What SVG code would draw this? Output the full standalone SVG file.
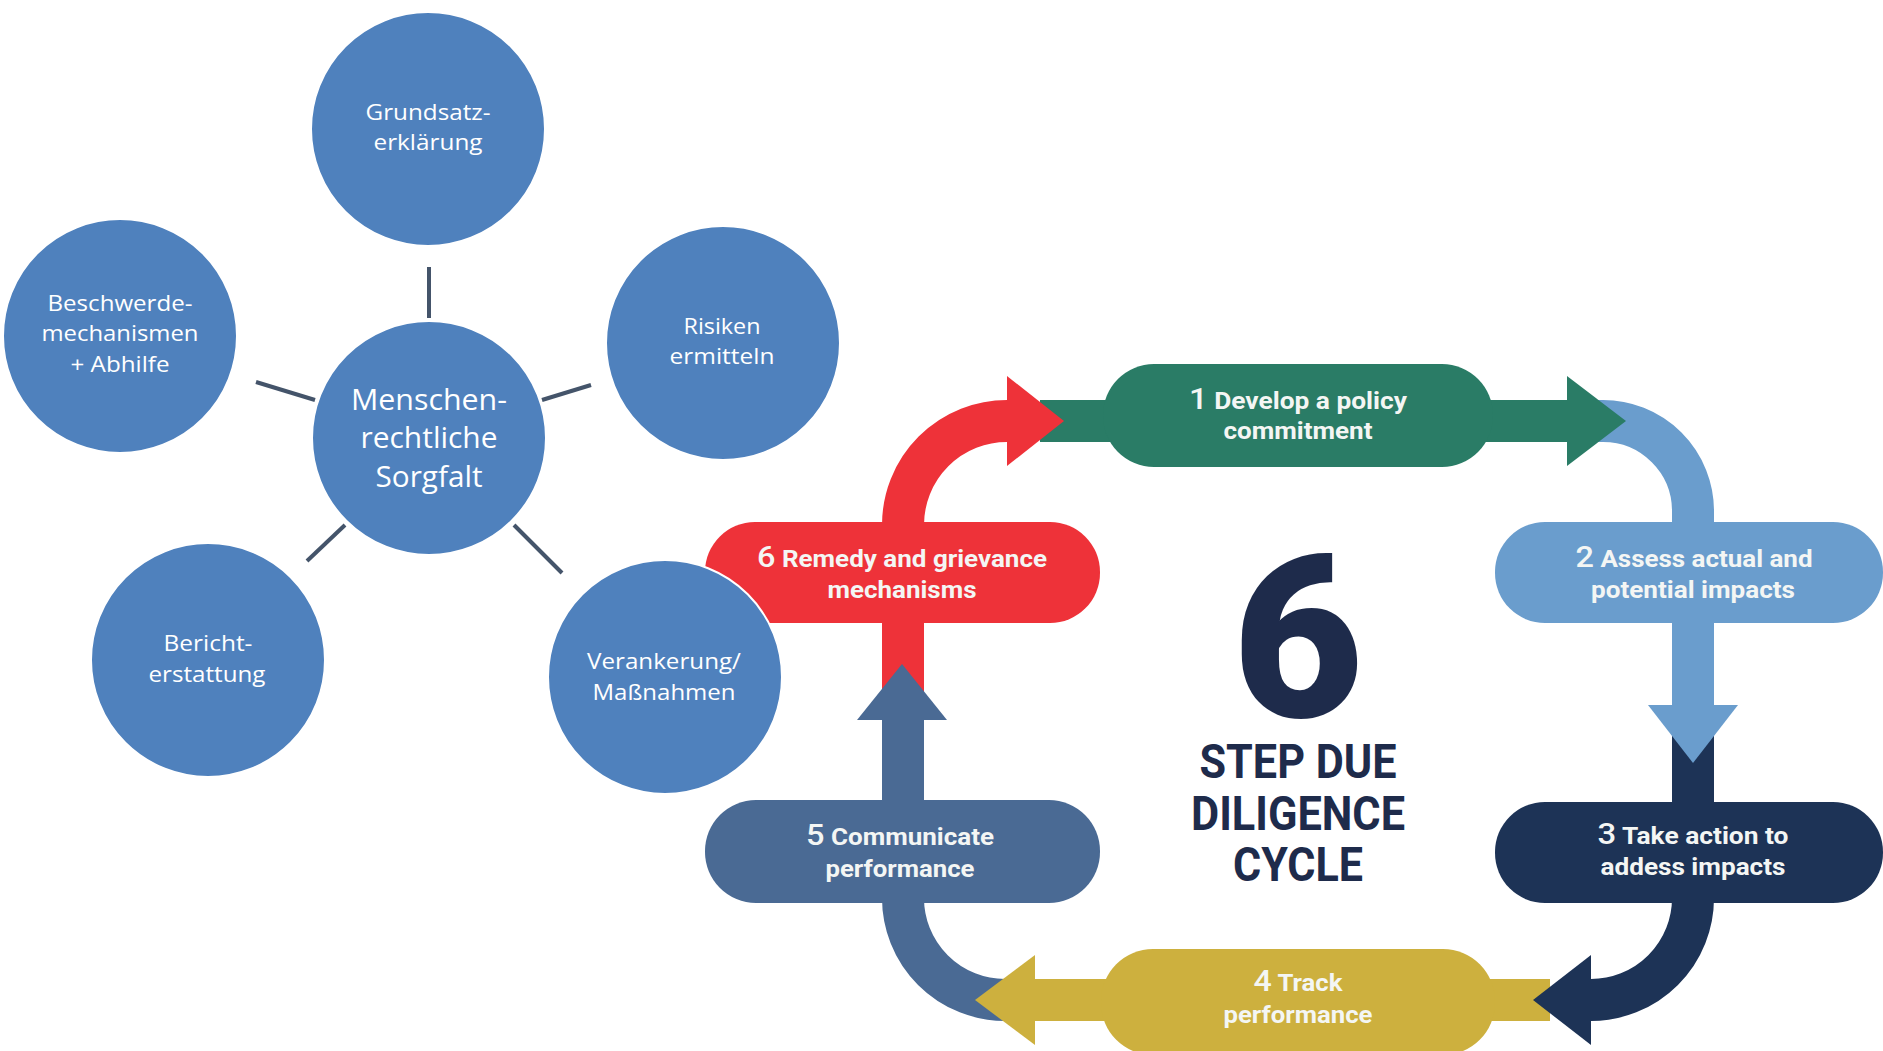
<svg xmlns="http://www.w3.org/2000/svg" width="1883" height="1051" viewBox="0 0 1883 1051">
<style>
.bg{fill:#ffffff}
.circ{fill:#4F81BD;stroke:#ffffff;stroke-width:2}
.ct{font-family:"Open Sans","Liberation Sans",sans-serif;font-size:21px;fill:#ffffff;text-anchor:middle}
.cb{font-family:"Open Sans","Liberation Sans",sans-serif;font-size:29px;fill:#ffffff;text-anchor:middle}
.link{stroke:#44546A;stroke-width:4;fill:none}
.track{fill:none;stroke-width:42;stroke-linecap:butt}
.st{font-family:Roboto,"Liberation Sans",sans-serif;font-weight:700;font-size:24px;fill:#F4F6F4;text-anchor:middle}
.num{font-weight:500;font-size:30px}
.title{font-family:Roboto,"Liberation Sans",sans-serif;font-weight:700;font-size:48px;fill:#1E2B4B;text-anchor:middle}
.big{font-weight:900;font-size:226px}
.red{fill:#EE3239}.redS{stroke:#EE3239}
.grn{fill:#2A7C66}.grnS{stroke:#2A7C66}
.lbl{fill:#6A9DCD}.lblS{stroke:#6A9DCD}
.nav{fill:#1D3356}.navS{stroke:#1D3356}
.stl{fill:#4A6A94}.stlS{stroke:#4A6A94}
.yel{fill:#CDB03E}.yelS{stroke:#CDB03E}
</style>
<rect class="bg" x="0" y="0" width="1883" height="1051"/>

<!-- cycle connectors (tracks and arrowheads) -->
<g id="cycle-connectors">
  <path class="track redS" d="M903,712 L903,525 A104,104 0 0 1 1007,421 L1015,421"/>
  <path class="track grnS" d="M1040,421 L1580,421"/>
  <path class="track lblS" d="M1590,421 L1603,421 A90,90 0 0 1 1693,511 L1693,720"/>
  <path class="track navS" d="M1693,712 L1693,898 A102,102 0 0 1 1591,1000 L1580,1000"/>
  <path class="track yelS" d="M1550,1000 L1020,1000"/>
  <path class="track stlS" d="M903,712 L903,898 A102,102 0 0 0 1005,1000"/>
</g>

<g id="step6"><rect class="red" x="705" y="522" width="395" height="101" rx="50"/>
  <text class="st" x="902" y="567" textLength="290" lengthAdjust="spacingAndGlyphs"><tspan class="num">6</tspan> Remedy and grievance</text>
  <text class="st" x="902" y="598" textLength="149" lengthAdjust="spacingAndGlyphs">mechanisms</text></g>
<g id="step1"><rect class="grn" x="1103" y="364" width="390" height="103" rx="51"/>
  <text class="st" x="1298" y="409" textLength="218" lengthAdjust="spacingAndGlyphs"><tspan class="num">1</tspan> Develop a policy</text>
  <text class="st" x="1298" y="439" textLength="149" lengthAdjust="spacingAndGlyphs">commitment</text></g>
<g id="step2"><rect class="lbl" x="1495" y="522" width="388" height="101" rx="50"/>
  <text class="st" x="1694" y="567" textLength="237" lengthAdjust="spacingAndGlyphs"><tspan class="num">2</tspan> Assess actual and</text>
  <text class="st" x="1693" y="598" textLength="204" lengthAdjust="spacingAndGlyphs">potential impacts</text></g>
<g id="step3"><rect class="nav" x="1495" y="802" width="388" height="101" rx="50"/>
  <text class="st" x="1693" y="844" textLength="191" lengthAdjust="spacingAndGlyphs"><tspan class="num">3</tspan> Take action to</text>
  <text class="st" x="1693" y="875" textLength="185" lengthAdjust="spacingAndGlyphs">addess impacts</text></g>
<g id="step5"><rect class="stl" x="705" y="800" width="395" height="103" rx="51"/>
  <text class="st" x="900" y="845" textLength="188" lengthAdjust="spacingAndGlyphs"><tspan class="num">5</tspan> Communicate</text>
  <text class="st" x="900" y="877" textLength="149" lengthAdjust="spacingAndGlyphs">performance</text></g>
<g id="step4"><rect class="yel" x="1101" y="949" width="394" height="106" rx="52"/>
  <text class="st" x="1298" y="991" textLength="89" lengthAdjust="spacingAndGlyphs"><tspan class="num">4</tspan> Track</text>
  <text class="st" x="1298" y="1023" textLength="149" lengthAdjust="spacingAndGlyphs">performance</text></g>

<g id="arrowheads">
  <polygon class="red" points="1007,376 1064,421 1007,466"/>
  <polygon class="grn" points="1567,376 1626,421 1567,466"/>
  <polygon class="lbl" points="1648,705 1693,763 1738,705"/>
  <polygon class="nav" points="1591,955 1533,1000 1591,1045"/>
  <polygon class="yel" points="1035,955 975,1000 1035,1045"/>
  <polygon class="stl" points="857,720 902,664 947,720"/>
</g>

<g id="cycle-title">
  <text class="title"><tspan class="big" x="1298" y="717">6</tspan><tspan x="1298" y="778" textLength="197" lengthAdjust="spacingAndGlyphs">STEP DUE</tspan><tspan x="1298" y="830" textLength="214" lengthAdjust="spacingAndGlyphs">DILIGENCE</tspan><tspan x="1298" y="881" textLength="130" lengthAdjust="spacingAndGlyphs">CYCLE</tspan></text>
</g>

<!-- left mind map -->
<g id="links">
  <line class="link" x1="429" y1="267" x2="429" y2="318"/>
  <line class="link" x1="256" y1="382" x2="315" y2="400"/>
  <line class="link" x1="542" y1="400" x2="591" y2="385"/>
  <line class="link" x1="307" y1="561" x2="345" y2="525"/>
  <line class="link" x1="514" y1="525" x2="562" y2="573"/>
</g>
<g id="grundsatz"><circle class="circ" cx="428" cy="129" r="117"/>
  <text class="ct" x="428" y="120" textLength="125" lengthAdjust="spacingAndGlyphs">Grundsatz-</text>
  <text class="ct" x="428" y="150" textLength="109" lengthAdjust="spacingAndGlyphs">erklärung</text></g>
<g id="beschwerde"><circle class="circ" cx="120" cy="336" r="117"/>
  <text class="ct" x="120" y="311" textLength="145" lengthAdjust="spacingAndGlyphs">Beschwerde-</text>
  <text class="ct" x="120" y="341" textLength="157" lengthAdjust="spacingAndGlyphs">mechanismen</text>
  <text class="ct" x="120" y="372" textLength="99" lengthAdjust="spacingAndGlyphs">+ Abhilfe</text></g>
<g id="risiken"><circle class="circ" cx="723" cy="343" r="117"/>
  <text class="ct" x="722" y="334" textLength="77" lengthAdjust="spacingAndGlyphs">Risiken</text>
  <text class="ct" x="722" y="364" textLength="105" lengthAdjust="spacingAndGlyphs">ermitteln</text></g>
<g id="center"><circle class="circ" cx="429" cy="438" r="117"/>
  <text class="cb" x="429" y="410" textLength="156" lengthAdjust="spacingAndGlyphs">Menschen-</text>
  <text class="cb" x="429" y="448" textLength="137" lengthAdjust="spacingAndGlyphs">rechtliche</text>
  <text class="cb" x="429" y="487" textLength="107" lengthAdjust="spacingAndGlyphs">Sorgfalt</text></g>
<g id="bericht"><circle class="circ" cx="208" cy="660" r="117"/>
  <text class="ct" x="208" y="651" textLength="89" lengthAdjust="spacingAndGlyphs">Bericht-</text>
  <text class="ct" x="207" y="682" textLength="117" lengthAdjust="spacingAndGlyphs">erstattung</text></g>
<g id="verankerung"><circle class="circ" cx="665" cy="677" r="117"/>
  <text class="ct" x="664" y="669" textLength="154" lengthAdjust="spacingAndGlyphs">Verankerung/</text>
  <text class="ct" x="664" y="700" textLength="143" lengthAdjust="spacingAndGlyphs">Maßnahmen</text></g>
</svg>
